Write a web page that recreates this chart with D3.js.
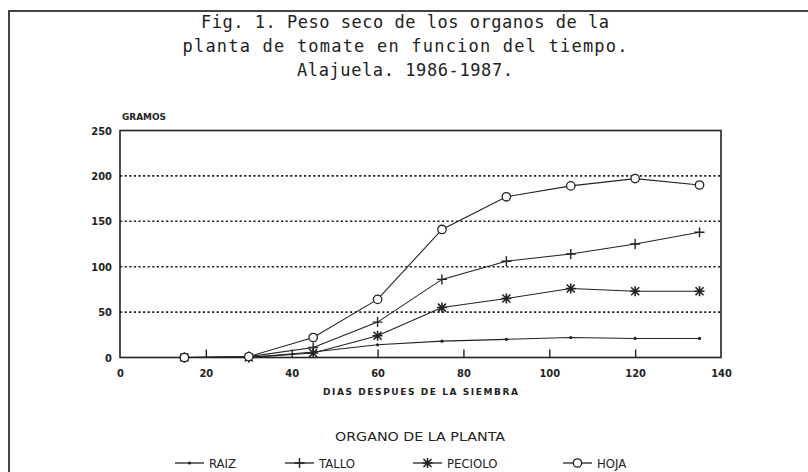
<!DOCTYPE html>
<meta charset="utf-8">
<script src="https://d3js.org/d3.v7.min.js"></script>
<style>
  body { margin: 0; background: #fff; }
  text { fill: #222; }
</style>
<div id="chart"></div>
<script>

// data
var days    = [15, 30, 45, 60, 75, 90, 105, 120, 135];
var raiz    = [0, 0, 6, 14, 18, 20, 22, 21, 21];
var tallo   = [0, 1, 11, 39, 86, 106, 114, 125, 138];
var peciolo = [0, 0, 5, 24, 55, 65, 76, 73, 73];
var hoja    = [0, 1, 22, 64, 141, 177, 189, 197, 190];

var seriesNames = ["RAIZ", "TALLO", "PECIOLO", "HOJA"];
var markerTypes = ["dot", "plus", "star", "circle"];
var xTicks = [0, 20, 40, 60, 80, 100, 120, 140];
var yTicks = [0, 50, 100, 150, 200, 250];
var titleLines = ["Fig. 1. Peso seco de los organos de la",
                  "planta de tomate en funcion del tiempo.",
                  "Alajuela. 1986-1987."];

var series = [raiz, tallo, peciolo, hoja].map(function(vals, i) {
  return { name: seriesNames[i], marker: markerTypes[i],
           values: vals.map(function(v, j) { return { day: days[j], g: v }; }) };
});

var W = 808, H = 472;
var svg = d3.select("#chart").append("svg")
    .attr("width", W).attr("height", H);

// outer frame of the scanned figure
svg.append("rect")
    .attr("x", 9).attr("y", 11)
    .attr("width", W + 10).attr("height", H + 10)
    .attr("fill", "none").attr("stroke", "#444").attr("stroke-width", 2);

// title
var titleWidths = [408, 445, 216];
svg.selectAll(".title").data(titleLines).enter().append("text")
    .attr("class", "title")
    .attr("x", 405)
    .attr("y", function(d, i) { return 28 + i * 24; })
    .attr("text-anchor", "middle")
    .attr("textLength", function(d, i) { return titleWidths[i]; })
    .attr("lengthAdjust", "spacing")
    .style("font-family", "'DejaVu Sans Mono', monospace")
    .style("font-size", "17px")
    .text(function(d) { return d; });

// scales
var x = d3.scaleLinear().domain([0, 140]).range([120, 721]);
var y = d3.scaleLinear().domain([0, 250]).range([357.5, 130.5]);

// dotted grid
svg.append("g").selectAll("line")
    .data(yTicks.filter(function(t) { return t > 0 && t < 250; }))
    .enter().append("line")
    .attr("x1", x(0)).attr("x2", x(140))
    .attr("y1", function(d) { return y(d); })
    .attr("y2", function(d) { return y(d); })
    .attr("stroke", "#222").attr("stroke-width", 1.6)
    .attr("stroke-dasharray", "2.2,2.4");

// plot frame
svg.append("rect")
    .attr("x", x(0)).attr("y", y(250))
    .attr("width", x(140) - x(0)).attr("height", y(0) - y(250))
    .attr("fill", "none").attr("stroke", "#222").attr("stroke-width", 1.6);

// x axis, ticks pointing inward
var xAxis = svg.append("g")
    .attr("transform", "translate(0," + y(0) + ")")
    .call(d3.axisBottom(x).tickValues(xTicks).tickSize(-8).tickPadding(12));
xAxis.select(".domain").remove();
xAxis.selectAll(".tick line").attr("stroke", "#222").attr("stroke-width", 1.4)
    .style("display", function(d) { return (d === 0 || d === 140) ? "none" : null; });
xAxis.selectAll("text")
    .style("font-family", "'DejaVu Sans', sans-serif")
    .style("font-stretch", "condensed")
    .style("font-weight", "bold")
    .style("font-size", "11px")
    .attr("fill", "#222");

var yAxis = svg.append("g")
    .attr("transform", "translate(" + x(0) + ",0)")
    .call(d3.axisLeft(y).tickValues(yTicks).tickSize(0).tickPadding(8));
yAxis.select(".domain").remove();
yAxis.selectAll("text")
    .style("font-family", "'DejaVu Sans', sans-serif")
    .style("font-stretch", "condensed")
    .style("font-weight", "bold")
    .style("font-size", "11px")
    .attr("fill", "#222");

// axis titles
svg.append("text")
    .attr("x", 122).attr("y", 120)
    .attr("textLength", 44).attr("lengthAdjust", "spacingAndGlyphs")
    .style("font-family", "'DejaVu Sans', sans-serif")
    .style("font-weight", "bold").style("font-size", "8px")
    .text("GRAMOS");

svg.append("text")
    .attr("x", (x(0) + x(140)) / 2).attr("y", 395)
    .attr("text-anchor", "middle")
    .attr("textLength", 195).attr("lengthAdjust", "spacing")
    .style("font-family", "'DejaVu Sans', sans-serif")
    .style("font-weight", "bold").style("font-size", "9px")
    .text("DIAS DESPUES DE LA SIEMBRA");

// lines
var line = d3.line()
    .x(function(d) { return x(d.day); })
    .y(function(d) { return y(d.g); });

svg.append("g").selectAll("path")
    .data(series).enter().append("path")
    .attr("d", function(d) { return line(d.values); })
    .attr("fill", "none").attr("stroke", "#222").attr("stroke-width", 1.1);

// marker drawing
function drawMarker(sel, type) {
  if (type === "dot") {
    sel.append("circle").attr("r", 1.6).attr("fill", "#222");
  } else if (type === "plus") {
    sel.append("path").attr("d", "M-5,0H5M0,-5V5")
        .attr("stroke", "#222").attr("stroke-width", 1.4);
  } else if (type === "star") {
    sel.append("path").attr("d", "M-5,0H5M0,-5V5M-4,-4L4,4M-4,4L4,-4")
        .attr("stroke", "#222").attr("stroke-width", 1.6);
  } else {
    sel.append("circle").attr("r", 4.2)
        .attr("fill", "#fff").attr("stroke", "#222").attr("stroke-width", 1.3);
  }
}

series.forEach(function(s) {
  svg.append("g").selectAll("g")
      .data(s.values).enter().append("g")
      .attr("transform", function(d) { return "translate(" + x(d.day) + "," + y(d.g) + ")"; })
      .each(function() { drawMarker(d3.select(this), s.marker); });
});

// legend
svg.append("text")
    .attr("x", 420).attr("y", 441)
    .attr("text-anchor", "middle")
    .attr("textLength", 170).attr("lengthAdjust", "spacingAndGlyphs")
    .style("font-family", "'DejaVu Sans', sans-serif")
    .style("font-size", "13px")
    .text("ORGANO DE LA PLANTA");

var legendStarts = [175, 285, 413, 563];
var legend = svg.append("g").selectAll("g")
    .data(series).enter().append("g")
    .attr("transform", function(d, i) { return "translate(" + legendStarts[i] + ",463)"; });

legend.append("line")
    .attr("x1", 0).attr("x2", 29)
    .attr("stroke", "#222").attr("stroke-width", 1.3);
legend.append("g")
    .attr("transform", "translate(14.5,0)")
    .each(function(d) { drawMarker(d3.select(this), d.marker); });
legend.append("text")
    .attr("x", 34).attr("y", 5)
    .style("font-family", "'DejaVu Sans', sans-serif")
    .style("font-stretch", "condensed")
    .style("font-size", "13px")
    .text(function(d) { return d.name; });

</script>
